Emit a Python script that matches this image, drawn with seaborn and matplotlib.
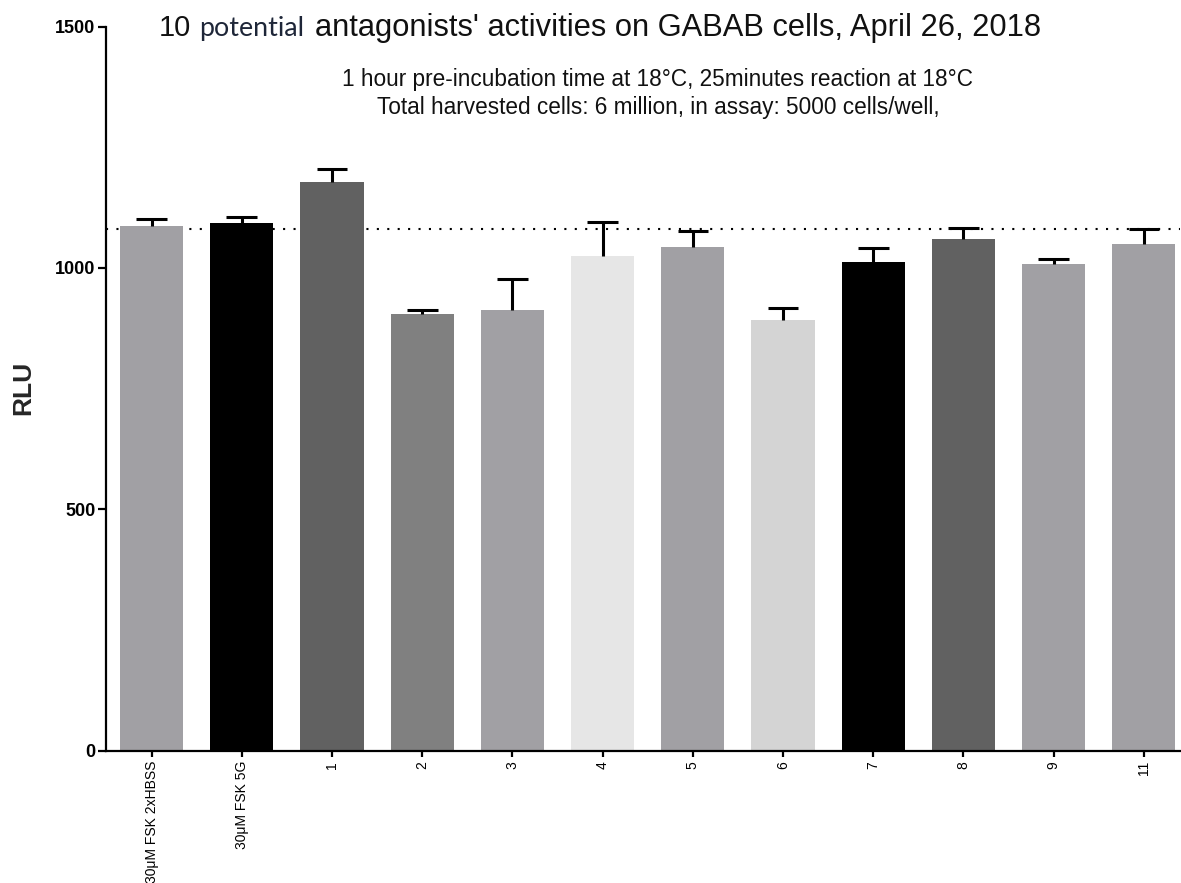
import matplotlib
matplotlib.use("Agg")
import matplotlib.pyplot as plt
import seaborn as sns
import pandas as pd

# Samples, mean luminescence and upper error (SD) per well group
samples = ["30\u03bcM FSK 2xHBSS", "30\u03bcM FSK 5G", "1", "2", "3", "4",
           "5", "6", "7", "8", "9", "11"]
rlu_mean = [1086, 1094, 1178, 905, 912, 1025, 1043, 893, 1013, 1059, 1008, 1050]
rlu_err = [15, 12, 27, 7, 66, 70, 34, 25, 29, 23, 11, 31]
bar_colors = ["#a1a0a4", "#000000", "#616161", "#808080", "#a1a0a4", "#e6e6e6",
              "#a1a0a4", "#d4d4d4", "#000000", "#616161", "#a1a0a4", "#a1a0a4"]
control_level = 1081
y_ticks = [0, 500, 1000, 1500]

sns.set_style("ticks")
plt.rcParams["font.family"] = ["Liberation Sans", "DejaVu Sans"]

df = pd.DataFrame({"sample": samples, "rlu": rlu_mean})

W, H = 1181, 883
fig = plt.figure(figsize=(W / 100, H / 100), dpi=100)
ax = fig.add_axes([106 / W, 1 - 750.5 / H, (1180 - 106) / W, (750.5 - 26.7) / H])

# dotted reference at the control level, behind the bars
ax.axhline(control_level, color="black", lw=1.5, linestyle=(0, (1, 4)), zorder=0.5)

sns.barplot(data=df, x="sample", y="rlu", hue="sample", order=samples,
            hue_order=samples, palette=bar_colors, legend=False, width=0.7,
            saturation=1, edgecolor="none", ax=ax, zorder=1, errorbar=None)

# upward-only error bars with caps
cap_half = 0.17
for i, (m, e) in enumerate(zip(rlu_mean, rlu_err)):
    ax.plot([i, i], [m, m + e], color="black", lw=2.2, zorder=3, solid_capstyle="butt")
    ax.plot([i - cap_half, i + cap_half], [m + e, m + e], color="black", lw=2.2,
            zorder=3, solid_capstyle="butt")

ax.set_ylim(0, 1500)
ax.set_xlim(-0.505, 11.4)
ax.set_yticks(y_ticks)
ax.set_yticklabels([str(t) for t in y_ticks], fontsize=13, fontweight="bold")
ax.set_xticks(range(len(samples)))
ax.set_xticklabels(samples, rotation=90, fontsize=10, va="top", ha="center")
ax.set_xlabel("")
ax.set_ylabel("")

for side in ["top", "right"]:
    ax.spines[side].set_visible(False)
for side in ["left", "bottom"]:
    ax.spines[side].set_linewidth(1.6)
    ax.spines[side].set_color("black")
ax.tick_params(axis="y", length=6, width=1.6, pad=1.5, colors="black")
ax.tick_params(axis="x", length=4.5, width=1.6, pad=3, colors="black")

fig.text(23 / W, 1 - 388 / H, "RLU", rotation=90, ha="center", va="center",
         fontsize=19, fontweight="bold")

# title: three runs of text, the middle word in a different face
title_base = 1 - 36 / H
fig.text(159 / W, title_base, "10", fontsize=21, ha="left", va="baseline",
         color="#111111")
fig.text(199 / W, title_base, "potential", family=["Lato", "DejaVu Sans"],
         fontsize=19.3, ha="left", va="baseline", color="#1e2638")
fig.text(315 / W, title_base, "antagonists' activities on GABAB cells, April 26, 2018",
         fontsize=22.2, ha="left", va="baseline", color="#111111")

fig.text(658 / W, 1 - 86 / H,
         "1 hour pre-incubation time at 18\u00b0C, 25minutes reaction at 18\u00b0C",
         ha="center", va="baseline", fontsize=16.3, color="#111111")
fig.text(658 / W, 1 - 114 / H,
         "Total harvested cells: 6 million, in assay: 5000 cells/well,",
         ha="center", va="baseline", fontsize=16.3, color="#111111")

fig.savefig("out.png", dpi=100)
